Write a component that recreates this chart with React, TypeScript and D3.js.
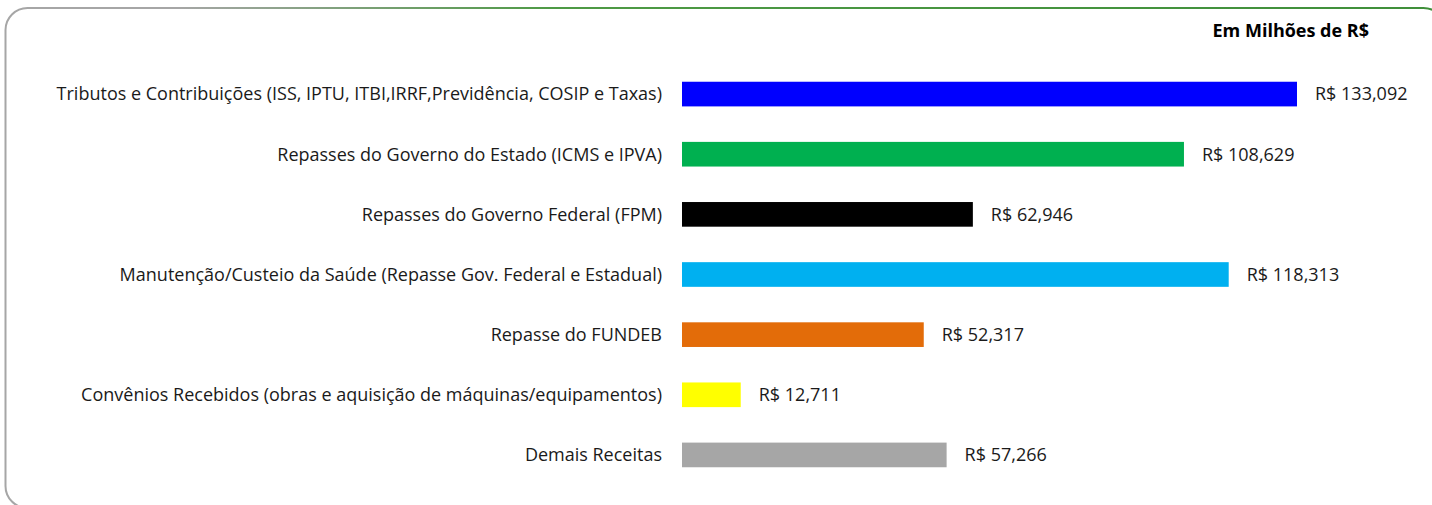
import React from 'react';
import * as d3 from 'd3';

// categories, values (R$ milhões) and bar colours
const categories = [
  'Tributos e Contribuições (ISS, IPTU, ITBI,IRRF,Previdência, COSIP e Taxas)',
  'Repasses do Governo do Estado (ICMS e IPVA)',
  'Repasses do Governo Federal (FPM)',
  'Manutenção/Custeio da Saúde (Repasse Gov. Federal e Estadual)',
  'Repasse do FUNDEB',
  'Convênios Recebidos (obras e aquisição de máquinas/equipamentos)',
  'Demais Receitas',
];
const values = [133.092, 108.629, 62.946, 118.313, 52.317, 12.711, 57.266];
const valueLabels = ['R$ 133,092', 'R$ 108,629', 'R$ 62,946', 'R$ 118,313', 'R$ 52,317', 'R$ 12,711', 'R$ 57,266'];
const colors = ['#0000ff', '#00b050', '#000000', '#00b0f0', '#e36c09', '#ffff00', '#a6a6a6'];
const unitTitle = 'Em Milhões de R$';

const W = 1432;
const H = 505;
const FONT = '"Open Sans", "Noto Sans", sans-serif';
const FS = 18;

export default function App() {
  // Set up the scales
  const x = d3.scaleLinear().domain([0, d3.max(values) as number]).range([682, 1297]);
  const y = d3
    .scaleBand<number>()
    .domain(d3.range(categories.length))
    .range([64, 485])
    .paddingInner(0.59)
    .paddingOuter(0.295);

  return (
    <svg width={W} height={H} style={{ position: 'absolute', left: 0, top: 0 }}>
      <defs>
        <linearGradient id="frame" x1="0" x2="1" y1="0" y2="0">
          <stop offset="0.12" stopColor="#a6a6a6" />
          <stop offset="0.38" stopColor="#4e9a45" />
          <stop offset="1" stopColor="#3f8f3a" />
        </linearGradient>
      </defs>
      <rect x={0} y={0} width={W} height={H} fill="#fff" />
      {/* chart frame, it runs off the right and bottom edges */}
      <rect x={5.5} y={8} width={1440} height={500} rx={22} fill="none" stroke="url(#frame)" strokeWidth={2} />

      <text x={1369} y={37} textAnchor="end" fontFamily={FONT} fontSize={FS} fontWeight="bold" fill="#000">
        {unitTitle}
      </text>

      {values.map((v, i) => {
        const cy = (y(i) as number) + y.bandwidth() / 2;
        return (
          <g key={i}>
            <text x={662} y={cy} dy="0.35em" textAnchor="end" fontFamily={FONT} fontSize={FS} fill="#1a1a1a">
              {categories[i]}
            </text>
            <rect x={x(0)} y={y(i)} width={x(v) - x(0)} height={y.bandwidth()} fill={colors[i]} />
            <text x={x(v) + 18} y={cy} dy="0.35em" fontFamily={FONT} fontSize={FS} fill="#1a1a1a">
              {valueLabels[i]}
            </text>
          </g>
        );
      })}
    </svg>
  );
}
